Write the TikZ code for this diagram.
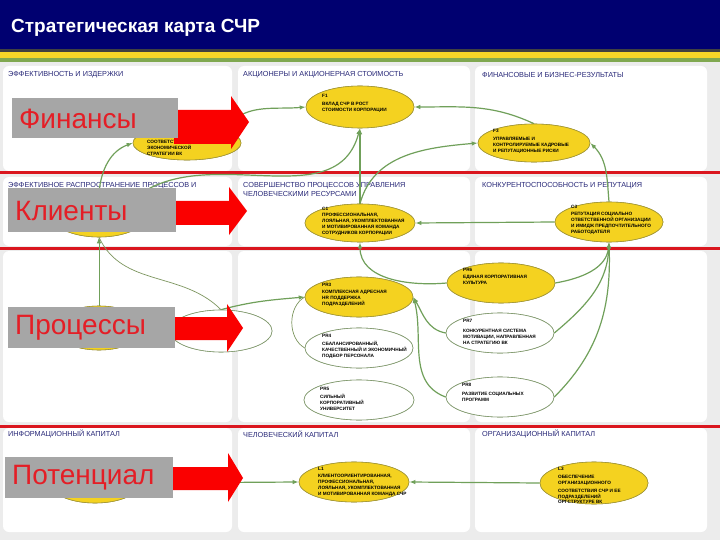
\documentclass[tikz,border=0pt]{standalone}
\usepackage{fontspec}
\setmainfont{Liberation Sans}
\usetikzlibrary{shapes.geometric,arrows.meta}
\definecolor{navy}{RGB}{0,0,112}
\definecolor{bggray}{RGB}{236,236,236}
\definecolor{stripey}{RGB}{246,214,40}
\definecolor{stripeg}{RGB}{128,168,80}
\definecolor{sepred}{RGB}{218,22,30}
\definecolor{hdrtext}{RGB}{40,40,120}
\definecolor{ellyel}{RGB}{244,210,32}
\definecolor{ellbrd}{RGB}{160,150,60}
\definecolor{olbrd}{RGB}{125,150,105}
\definecolor{conn}{RGB}{112,160,90}
\definecolor{thinconn}{RGB}{125,150,95}
\definecolor{lblgray}{RGB}{166,166,166}
\definecolor{lblred}{RGB}{228,30,38}
\definecolor{arrred}{RGB}{250,0,0}
\tikzset{
  panel/.style={fill=white, rounded corners=6pt},
  colhdr/.style={anchor=west, inner sep=0pt, text=hdrtext, font=\fontsize{7.3}{8.8}\selectfont, align=left},
  yel/.style={ellipse, draw=ellbrd, fill=ellyel, line width=0.6pt, inner sep=0pt},
  outl/.style={ellipse, draw=olbrd, fill=white, line width=0.6pt, inner sep=0pt},
  etxt/.style={anchor=north west, inner sep=0pt, align=left, text=black, font=\fontsize{4.7}{5.9}\selectfont\bfseries},
  cn/.style={draw=conn, line width=1.2pt, -{Latex[length=6pt,width=4.5pt]}},
  thincn/.style={draw=thinconn, line width=0.7pt},
  lblbox/.style={fill=lblgray},
  lbltxt/.style={anchor=west, inner sep=0pt, text=lblred, font=\fontsize{28}{32}\selectfont},
  bigarrow/.style={fill=arrred}
}
\begin{document}
\begin{tikzpicture}[x=1pt,y=-1pt]
\useasboundingbox (0,0) rectangle (720,540);
% background and header
\fill[bggray] (0,0) rectangle (720,540);
\fill[navy] (0,0) rectangle (720,49);
\fill[black!75] (0,49) rectangle (720,52);
\fill[stripey] (0,52) rectangle (720,58);
\fill[stripeg] (0,58) rectangle (720,62);
\node[anchor=west, inner sep=0pt, text=white, font=\fontsize{19}{22}\selectfont\bfseries] (title) at (11,28) {Стратегическая карта СЧР};
% panels
\foreach \ya/\yb in {66/171, 177/246, 251/422, 428/532}{
  \fill[panel] (3,\ya) rectangle (232,\yb);
  \fill[panel] (238,\ya) rectangle (470,\yb);
  \fill[panel] (475,\ya) rectangle (707,\yb);
}
% column headers
\node[colhdr] (h11) at (8,75) {ЭФФЕКТИВНОСТЬ И ИЗДЕРЖКИ};
\node[colhdr] (h12) at (243,75) {АКЦИОНЕРЫ И АКЦИОНЕРНАЯ СТОИМОСТЬ};
\node[colhdr] (h13) at (482,75) {ФИНАНСОВЫЕ И БИЗНЕС-РЕЗУЛЬТАТЫ};
\node[colhdr] (h21) at (8,186) {ЭФФЕКТИВНОЕ РАСПРОСТРАНЕНИЕ ПРОЦЕССОВ И};
\node[colhdr, anchor=north west] (h22) at (243,182) {СОВЕРШЕНСТВО ПРОЦЕССОВ УПРАВЛЕНИЯ\\ЧЕЛОВЕЧЕСКИМИ РЕСУРСАМИ};
\node[colhdr] (h23) at (482,186) {КОНКУРЕНТОСПОСОБНОСТЬ И РЕПУТАЦИЯ};
\node[colhdr] (h41) at (8,434) {ИНФОРМАЦИОННЫЙ КАПИТАЛ};
\node[colhdr] (h42) at (243,434) {ЧЕЛОВЕЧЕСКИЙ КАПИТАЛ};
\node[colhdr] (h43) at (482,434) {ОРГАНИЗАЦИОННЫЙ КАПИТАЛ};
% row separators
\foreach \y in {173,248,426}{
  \draw[sepred, line width=3pt] (0,\y) -- (720,\y);
}
% ellipses (placed first for connector anchors)
\path
  (187,143) node[yel, minimum width=108pt, minimum height=34pt] (E1) {}
  (360,107) node[yel, minimum width=108pt, minimum height=42pt] (F1) {}
  (534,143) node[yel, minimum width=112pt, minimum height=38pt] (F3) {}
  (99,215)  node[yel, minimum width=96pt, minimum height=44pt] (C2) {}
  (360,223) node[yel, minimum width=110pt, minimum height=38pt] (C1) {}
  (609,222) node[yel, minimum width=108pt, minimum height=40pt] (C3) {}
  (99,328)  node[yel, minimum width=90pt, minimum height=44pt] (P0) {}
  (221,331) node[outl, minimum width=102pt, minimum height=42pt] (PX) {}
  (359,297) node[yel, minimum width=108pt, minimum height=40pt] (PR3) {}
  (359,348) node[outl, minimum width=108pt, minimum height=40pt] (PR4) {}
  (359,400) node[outl, minimum width=110pt, minimum height=40pt] (PR5) {}
  (501,283) node[yel, minimum width=108pt, minimum height=40pt] (PR6) {}
  (500,333) node[outl, minimum width=108pt, minimum height=40pt] (PR7) {}
  (500,397) node[outl, minimum width=108pt, minimum height=40pt] (PR8) {}
  (95,483)  node[yel, minimum width=90pt, minimum height=40pt] (P4) {}
  (354,482) node[yel, minimum width=110pt, minimum height=40pt] (L1) {}
  (594,483) node[yel, minimum width=108pt, minimum height=42pt] (L3) {};
% connectors
\draw[cn] (E1.north east) to[out=60,in=185] (F1.west);
\draw[cn] (C2.north) to[out=85,in=200] (E1.west);
\draw[cn] (C2.north east) to[out=40,in=-105] (F1.south);
\draw[cn] (C1.north) -- (F1.south);
\draw[cn] (C1.north) to[out=75,in=185] (F3.west);
\draw[cn] (C3.north) to[out=95,in=-45] (F3.east);
\draw[cn] (F3.north) to[out=155,in=0] (F1.east);
\draw[cn] (C3.west) -- (C1.east);
\draw[cn, line width=0.9pt] (P0.north) -- (C2.south);
\draw[thincn] (PX.north) to[out=135,in=-65] (C2.south);
\draw[cn] (PX.north) to[out=15,in=185] (PR3.west);
\draw[thincn] (PR4.west) to[out=150,in=210] (PR3.west);
\draw[cn] (PR6.west) to[out=185,in=-90] (C1.south);
\draw[cn] (PR7.west) to[out=170,in=-60] (PR3.east);
\draw[cn] (PR8.west) to[out=160,in=-75] (PR3.east);
\draw[cn] (PR6.east) to[out=10,in=-95] (C3.south);
\draw[cn] (PR7.east) to[out=40,in=-92] (C3.south);
\draw[cn] (PR8.east) to[out=45,in=-88] (C3.south);
\draw[cn] (L3.west) -- (L1.east);
\draw[cn] (P4.east) -- (L1.west);
% redraw ellipses on top of connectors
\path
  (187,143) node[yel, minimum width=108pt, minimum height=34pt] (E1b) {}
  (360,107) node[yel, minimum width=108pt, minimum height=42pt] (F1b) {}
  (534,143) node[yel, minimum width=112pt, minimum height=38pt] (F3b) {}
  (99,215)  node[yel, minimum width=96pt, minimum height=44pt] (C2b) {}
  (360,223) node[yel, minimum width=110pt, minimum height=38pt] (C1b) {}
  (609,222) node[yel, minimum width=108pt, minimum height=40pt] (C3b) {}
  (99,328)  node[yel, minimum width=90pt, minimum height=44pt] (P0b) {}
  (221,331) node[outl, minimum width=102pt, minimum height=42pt] (PXb) {}
  (359,297) node[yel, minimum width=108pt, minimum height=40pt] (PR3b) {}
  (359,348) node[outl, minimum width=108pt, minimum height=40pt] (PR4b) {}
  (359,400) node[outl, minimum width=110pt, minimum height=40pt] (PR5b) {}
  (501,283) node[yel, minimum width=108pt, minimum height=40pt] (PR6b) {}
  (500,333) node[outl, minimum width=108pt, minimum height=40pt] (PR7b) {}
  (500,397) node[outl, minimum width=108pt, minimum height=40pt] (PR8b) {}
  (95,483)  node[yel, minimum width=90pt, minimum height=40pt] (P4b) {}
  (354,482) node[yel, minimum width=110pt, minimum height=40pt] (L1b) {}
  (594,483) node[yel, minimum width=108pt, minimum height=42pt] (L3b) {};
% texts in ellipses
\node[etxt] (tE1) at (147,134.5) {ЗАТРАТЫ И ИЗДЕРЖКИ\\СООТВЕТСТВУЮТ\\ЭКОНОМИЧЕСКОЙ\\СТРАТЕГИИ ВК};
\node[etxt] (tF1) at (322,94) {F1\\[2pt]ВКЛАД СЧР В РОСТ\\СТОИМОСТИ КОРПОРАЦИИ};
\node[etxt] (tF3) at (493,129) {F3\\[2pt]УПРАВЛЯЕМЫЕ И\\КОНТРОЛИРУЕМЫЕ КАДРОВЫЕ\\И РЕПУТАЦИОННЫЕ РИСКИ};
\node[etxt] (tC2) at (60,228) {И РЕЗУЛЬТАТИВНЫЕ};
\node[etxt] (tC1) at (322,207) {C1\\[0.5pt]ПРОФЕССИОНАЛЬНАЯ,\\ЛОЯЛЬНАЯ, УКОМПЛЕКТОВАННАЯ\\И МОТИВИРОВАННАЯ КОМАНДА\\СОТРУДНИКОВ КОРПОРАЦИИ};
\node[etxt] (tC3) at (571,205) {C3\\[1pt]РЕПУТАЦИЯ СОЦИАЛЬНО\\ОТВЕТСТВЕННОЙ ОРГАНИЗАЦИИ\\И ИМИДЖ ПРЕДПОЧТИТЕЛЬНОГО\\РАБОТОДАТЕЛЯ};
\node[etxt] (tPR3) at (322,283.5) {PR3\\[1pt]КОМПЛЕКСНАЯ АДРЕСНАЯ\\HR ПОДДЕРЖКА\\ПОДРАЗДЕЛЕНИЙ};
\node[etxt] (tPR4) at (322,334) {PR4\\[2pt]СБАЛАНСИРОВАННЫЙ,\\КАЧЕСТВЕННЫЙ И ЭКОНОМИЧНЫЙ\\ПОДБОР ПЕРСОНАЛА};
\node[etxt] (tPR5) at (320,387) {PR5\\[2pt]СИЛЬНЫЙ\\КОРПОРАТИВНЫЙ\\УНИВЕРСИТЕТ};
\node[etxt] (tPR6) at (463,268) {PR6\\[1pt]ЕДИНАЯ КОРПОРАТИВНАЯ\\КУЛЬТУРА};
\node[etxt] (tPR7) at (463,319) {PR7\\[4pt]КОНКУРЕНТНАЯ СИСТЕМА\\МОТИВАЦИИ, НАПРАВЛЕННАЯ\\НА СТРАТЕГИЮ ВК};
\node[etxt] (tPR8) at (462,383) {PR8\\[3pt]РАЗВИТИЕ СОЦИАЛЬНЫХ\\ПРОГРАММ};
\node[etxt] (tL1) at (318,467) {L1\\[1pt]КЛИЕНТООРИЕНТИРОВАННАЯ,\\ПРОФЕССИОНАЛЬНАЯ,\\ЛОЯЛЬНАЯ, УКОМПЛЕКТОВАННАЯ\\И МОТИВИРОВАННАЯ КОМАНДА СЧР};
\node[etxt] (tL3) at (558,467) {L3\\[2pt]ОБЕСПЕЧЕНИЕ\\ОРГАНИЗАЦИОННОГО\\[2pt]СООТВЕТСТВИЯ СЧР И ЕЕ\\ПОДРАЗДЕЛЕНИЙ\\ОРГСТРУКТУРЕ ВК};
% red arrows and label boxes
\fill[bigarrow] (174,110) -- (231,110) -- (231,96) -- (249,122) -- (231,149) -- (231,144) -- (174,144) -- cycle;
\fill[bigarrow] (172,201) -- (229,201) -- (229,187) -- (247,211) -- (229,235) -- (229,225) -- (172,225) -- cycle;
\fill[bigarrow] (170,317) -- (227,317) -- (227,304) -- (243,328) -- (227,352) -- (227,340) -- (170,340) -- cycle;
\fill[bigarrow] (170,467) -- (228,467) -- (228,453) -- (243,478) -- (228,502) -- (228,490) -- (170,490) -- cycle;
\fill[lblbox] (12,98) rectangle (178,138);
\fill[lblbox] (8,188) rectangle (176,232);
\fill[lblbox] (8,307) rectangle (175,348);
\fill[lblbox] (5,457) rectangle (173,498);
\node[lbltxt] (lFin) at (19,119) {Финансы};
\node[lbltxt] (lKli) at (15,211) {Клиенты};
\node[lbltxt] (lPro) at (15,328) {Процессы};
\node[lbltxt] (lPot) at (12,478) {Потенциал};
\end{tikzpicture}
\end{document}
